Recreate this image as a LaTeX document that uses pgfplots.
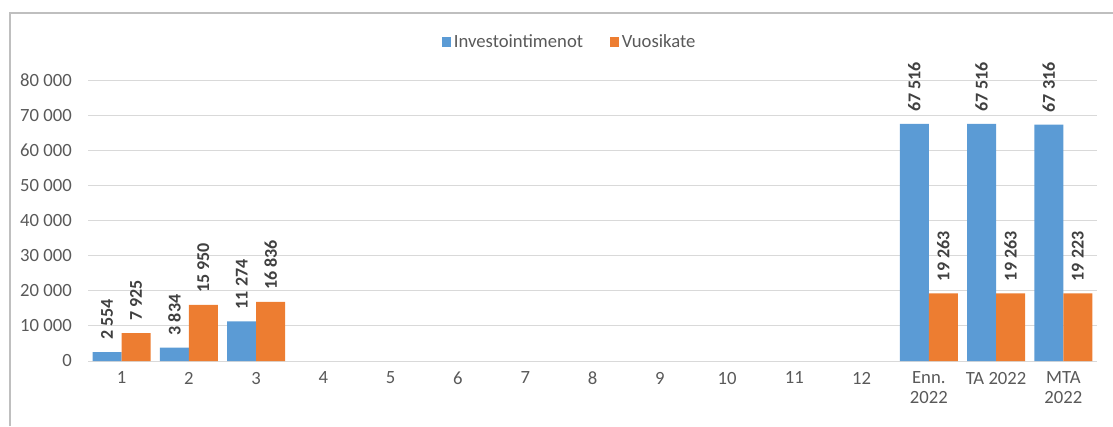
\documentclass[border=0pt]{standalone}
\usepackage{fontspec}
\setmainfont{Carlito}
\usepackage{pgfplots}
\pgfplotsset{compat=1.18}

\definecolor{invblue}{HTML}{5B9BD5}
\definecolor{vuorange}{HTML}{ED7D31}
\definecolor{gridgray}{HTML}{D9D9D9}
\definecolor{ticktext}{HTML}{595959}
\definecolor{labeltext}{HTML}{404040}
\definecolor{framegray}{HTML}{BFBFBF}

\begin{document}
\begin{tikzpicture}[x=0.75pt,y=0.75pt]
% whole picture 1113 x 426 px, 1 px = 0.75 pt
\useasboundingbox (0,0) rectangle (1113,426);
\draw[framegray, line width=1.5pt] (10,0) -- (10,413) -- (1113,413);
\begin{axis}[
    at={(88*0.75pt,65*0.75pt)}, anchor=south west,
    scale only axis,
    width=756.75pt, height=210.75pt,
    ybar=0pt,
    bar width=21.75pt,
    xmin=-0.5, xmax=14.5,
    ymin=0, ymax=80000,
    xtick={0,...,14},
    xticklabels={1,2,3,4,5,6,7,8,9,10,11,12,{Enn.\\2022},{TA 2022},{MTA\\2022}},
    ytick={0,10000,...,80000},
    scaled y ticks=false,
    /pgf/number format/.cd, 1000 sep={\ }, assume math mode=true,
    /pgfplots/.cd,
    ymajorgrids,
    grid style={gridgray, line width=0.75pt},
    axis line style={draw=none},
    major tick length=0pt,
    tick label style={font=\fontsize{14}{15}\selectfont, text=ticktext},
    yticklabel style={inner sep=0pt, xshift=-12pt},
    xticklabel style={inner sep=0pt, yshift=-8pt, anchor=north, align=center},
    nodes near coords,
    every node near coord/.append style={rotate=90, anchor=west,
        inner xsep=9pt, inner ysep=0pt,
        font=\fontsize{13.5}{13.5}\bfseries, text=labeltext},
    clip=false,
    legend columns=2,
    legend style={at={(0.4777,1.135)}, anchor=center, draw=none, fill=none,
        font=\fontsize{14}{15}\selectfont, text=ticktext,
        /tikz/every even column/.append style={column sep=18pt}},
    legend image code/.code={\fill[#1] (0pt,-3.5pt) rectangle (7pt,3.5pt);},
]
\addplot[fill=invblue, draw=none] coordinates {
(0,2554) (1,3834) (2,11274) (12,67516) (13,67516) (14,67316)
};
\addlegendentry{Investointimenot}
\addplot[fill=vuorange, draw=none] coordinates {
(0,7925) (1,15950) (2,16836) (12,19263) (13,19263) (14,19223)
};
\addlegendentry{Vuosikate}
\end{axis}
\end{tikzpicture}
\end{document}
